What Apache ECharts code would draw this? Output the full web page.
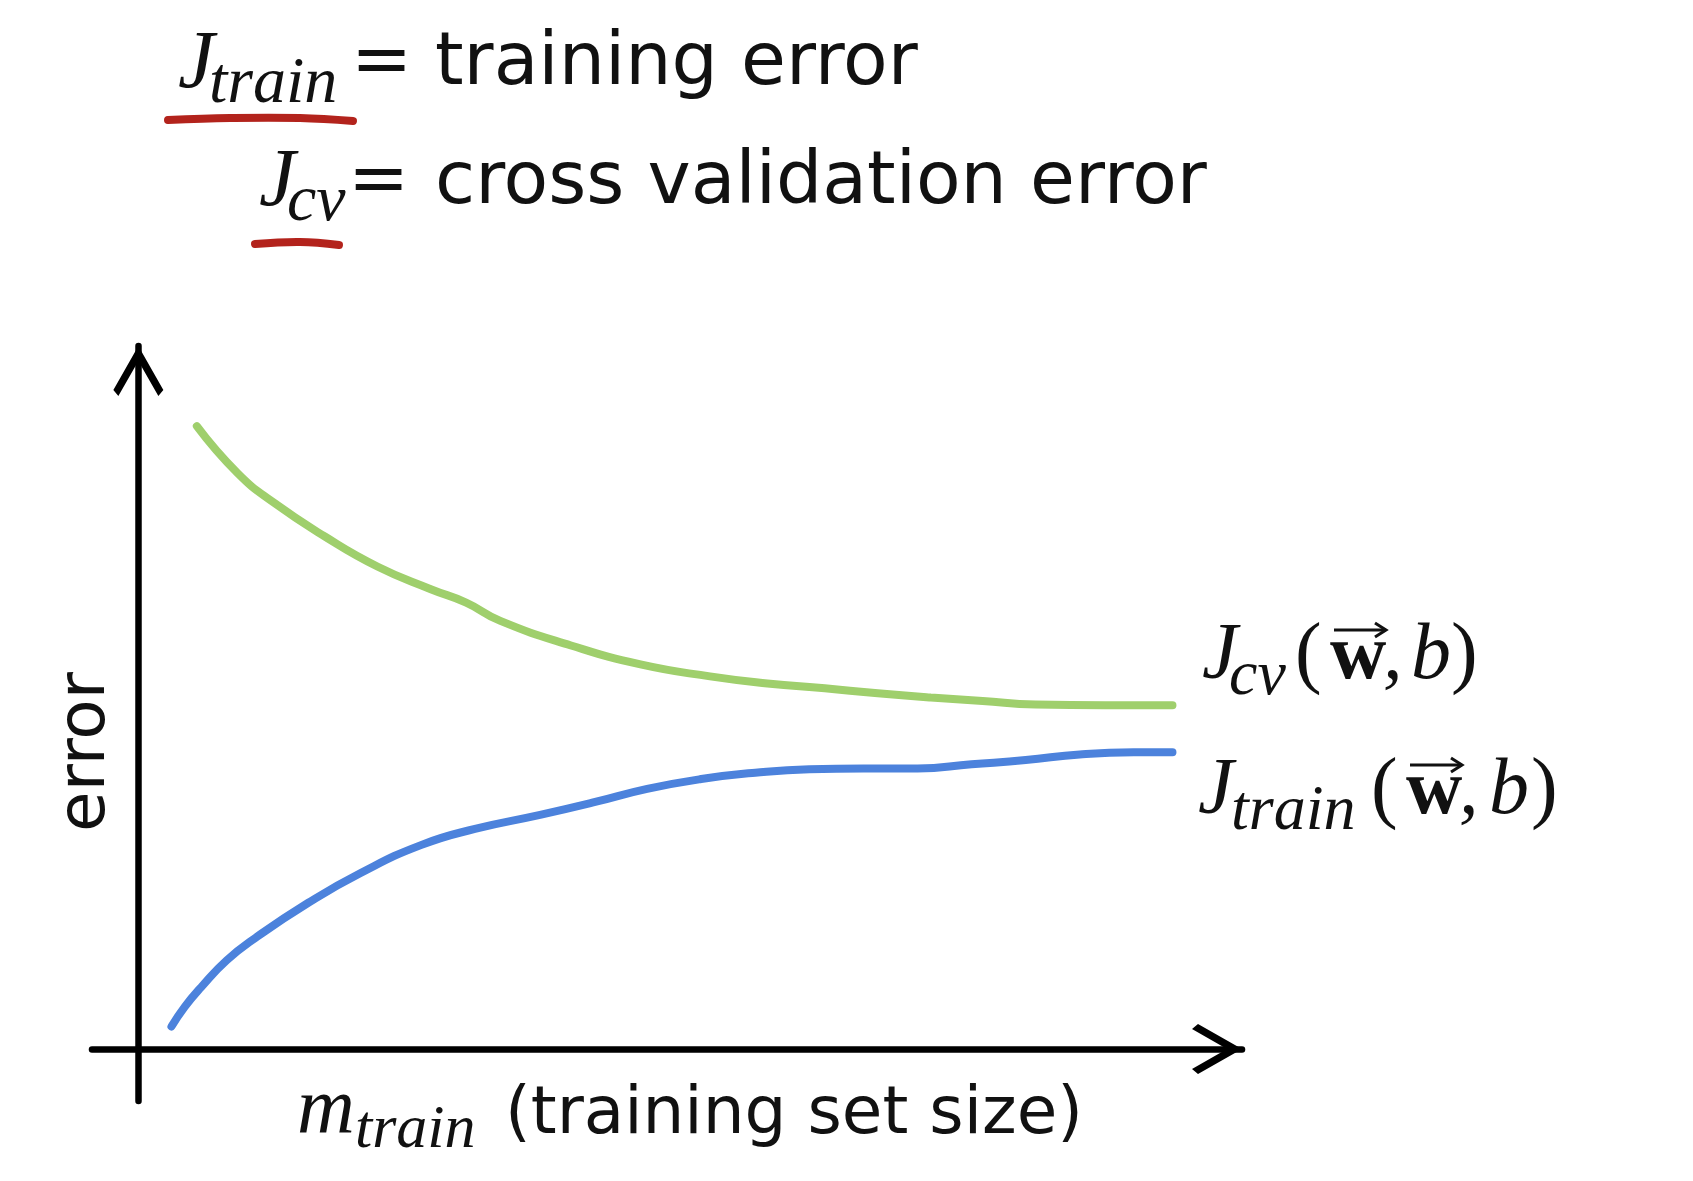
<!DOCTYPE html>
<html><head><meta charset="utf-8">
<script src="https://cdn.jsdelivr.net/npm/echarts@6/dist/echarts.min.js"></script>
<style>html,body{margin:0;padding:0;background:#fff;}#c{width:1693px;height:1181px;}</style>
</head><body><div id="c"></div>
<script>
// Cross-validation error curve J_cv(w,b)
const cvX = [5.3, 9.0, 12.2, 16.9, 21.7, 26.5, 29.7, 32.8, 39.2, 45.5, 51.8, 57.0, 62.2, 67.0, 71.8, 76.5, 81.3, 87.6, 93.7];
const cvY = [88.6, 81.9, 77.8, 72.9, 68.6, 65.4, 63.5, 60.9, 57.4, 54.7, 53.0, 52.0, 51.3, 50.6, 50.0, 49.5, 49.0, 48.9, 48.9];
// Training error curve J_train(w,b)
const trainX = [3.0, 4.2, 5.7, 8.0, 10.6, 15.4, 20.1, 25.6, 30.5, 36.4, 41.3, 46.1, 51.0, 55.9, 60.8, 65.7, 70.6, 75.5, 80.4, 85.3, 90.2, 93.7];
const trainY = [3.2, 6.0, 8.8, 12.6, 15.8, 20.8, 25.0, 29.0, 31.3, 33.3, 35.1, 37.0, 38.4, 39.3, 39.8, 39.9, 39.9, 40.5, 41.1, 41.9, 42.2, 42.2];
// Texts
const legendLines = ['training error', 'cross validation error'];
const yName = 'error';
const xName = '(training set size)';

const SERIF = '"Liberation Serif", "DejaVu Serif", serif';
const SANS = '"DejaVu Sans", Verdana, sans-serif';
const INK = '#111';

function txt(str, x, base, size, family, style, weight, extra) {
  const o = {
    type: 'text', x: x, y: base - size * 0.34, z: 10,
    style: {
      text: str, fill: INK, fontSize: size, fontFamily: family,
      fontStyle: style || 'normal', fontWeight: weight || 'normal',
      textAlign: 'left', textVerticalAlign: 'middle', verticalAlign: 'middle'
    }
  };
  return Object.assign(o, extra || {});
}
function vecArrow(x1, x2, y) {
  return [
    { type: 'line', z: 10, shape: { x1: x1, y1: y, x2: x2, y2: y }, style: { stroke: INK, lineWidth: 3 } },
    { type: 'polyline', z: 10, shape: { points: [[x2 - 11, y - 7], [x2, y], [x2 - 11, y + 7]] }, style: { stroke: INK, lineWidth: 3, fill: null } }
  ];
}
function funcLabel(sub, xJ, xSub, xParen, xW, xComma, xB, xClose, base) {
  return [
    txt('J', xJ, base, 80, SERIF, 'italic'),
    txt(sub, xSub, base + 15, 64, SERIF, 'italic'),
    txt('(', xParen, base, 80, SERIF),
    txt('w', xW, base, 78, SERIF, 'normal', 'bold'),
    txt(',', xComma, base, 78, SERIF, 'italic'),
    txt('b', xB, base, 80, SERIF, 'italic'),
    txt(')', xClose, base, 80, SERIF)
  ].concat(vecArrow(xW + 4, xW + 56, base - 54));
}

const arrowPath = 'path://M25,0 L50,44 L45,50 L25,15 L5,50 L0,44 Z';
const axisCommon = {
  type: 'value',
  axisLine: { show: true, onZero: true, symbol: ['none', arrowPath], symbolSize: [50, 50], symbolOffset: [0, -25], lineStyle: { color: '#000', width: 6.5 } },
  axisTick: { show: false }, axisLabel: { show: false }, splitLine: { show: false }
};

const graphics = [
  // header line 1
  txt('J', 178, 93, 82, SERIF, 'italic'),
  txt('train', 209, 107, 66, SERIF, 'italic'),
  txt('=', 351, 90, 73, SANS),
  txt(legendLines[0], 435, 90, 73, SANS),
  // header line 2
  txt('J', 259, 211, 82, SERIF, 'italic'),
  txt('cv', 287, 225, 66, SERIF, 'italic'),
  txt('=', 348, 209, 73, SANS),
  txt(legendLines[1], 435, 209, 73, SANS),
  // red underlines
  { type: 'polyline', z: 9, shape: { points: [[168, 120], [230, 118], [300, 118], [353, 121]], smooth: 0.4 }, style: { stroke: '#b3231c', lineWidth: 8, lineCap: 'round', fill: null } },
  { type: 'polyline', z: 9, shape: { points: [[255, 244], [300, 242], [339, 245]], smooth: 0.4 }, style: { stroke: '#b3231c', lineWidth: 8, lineCap: 'round', fill: null } },
  // y name (rotated)
  { type: 'text', x: 87, y: 752, rotation: Math.PI / 2, z: 10,
    style: { text: yName, fill: INK, fontSize: 66, fontFamily: SANS, textAlign: 'center', textVerticalAlign: 'middle', verticalAlign: 'middle' } },
  // x name
  txt('m', 297, 1138, 80, SERIF, 'italic'),
  txt('train', 355, 1152, 62, SERIF, 'italic'),
  txt(xName, 505, 1138, 66, SANS)
].concat(
  funcLabel('cv', 1202, 1229, 1295, 1330, 1383, 1411, 1451, 684),
  funcLabel('train', 1198, 1231, 1371, 1406, 1459, 1489, 1531, 819)
);

const chart = echarts.init(document.getElementById('c'), null, { renderer: 'canvas' });
chart.setOption({
  backgroundColor: '#ffffff',
  animation: false,
  grid: { left: 92, top: 346, width: 1150, height: 755, containLabel: false },
  xAxis: Object.assign({}, axisCommon, { min: -4.2, max: 100 }),
  yAxis: Object.assign({}, axisCommon, { min: -7.4, max: 100 }),
  series: [
    { name: 'J_cv', type: 'line', smooth: true, symbol: 'none', z: 3,
      lineStyle: { color: '#9fcf6c', width: 8, cap: 'round' },
      data: cvX.map((x, i) => [x, cvY[i]]) },
    { name: 'J_train', type: 'line', smooth: true, symbol: 'none', z: 3,
      lineStyle: { color: '#4c82dc', width: 8, cap: 'round' },
      data: trainX.map((x, i) => [x, trainY[i]]) }
  ],
  graphic: graphics
});
</script></body></html>
